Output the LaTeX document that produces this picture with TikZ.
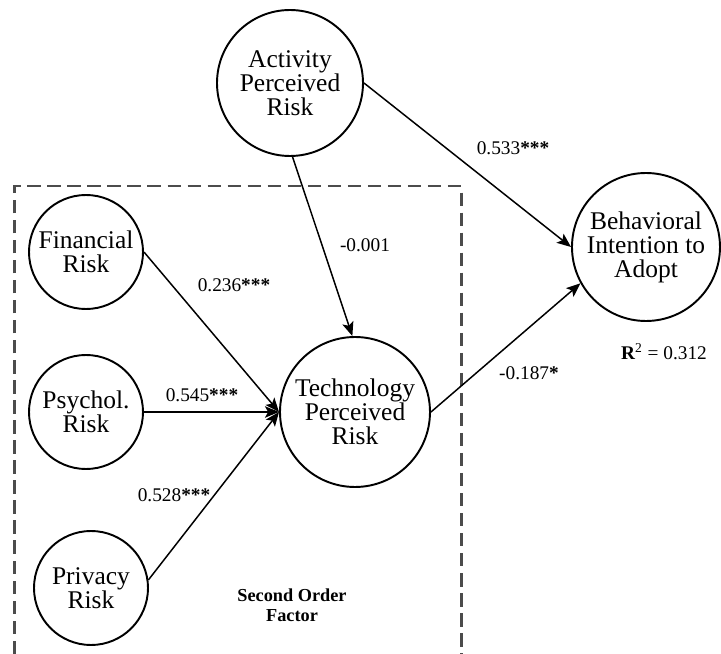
\documentclass[tikz,border=0pt]{standalone}
\usepackage{fontspec}
\setmainfont{Liberation Serif}
\usepackage{tikz}
\usetikzlibrary{arrows.meta}

\begin{document}
\begin{tikzpicture}[
  construct/.style={circle, draw, line width=1.1pt, inner sep=0pt, align=center,
    font=\fontsize{14.5}{13.7}\selectfont},
  coef/.style={font=\fontsize{11}{13}\selectfont},
  effect/.style={line width=0.85pt, -{Stealth[length=8pt,width=6.5pt,inset=1.8pt]}}
]
\useasboundingbox (0cm,0cm) rectangle (14.42cm,-13.08cm);
% second order factor frame
\draw[black!70, line width=1.2pt, dash pattern=on 7.6pt off 3.8pt]
  (0.29cm,-13.08cm) -- (0.29cm,-3.72cm) -- (9.23cm,-3.72cm) -- (9.23cm,-13.08cm);
\node[construct, minimum size=2.92cm] (1) at (5.8 cm,-1.66cm) {Activity\\Perceived\\Risk};
\node[construct, minimum size=2.96cm] (2) at (12.92 cm,-4.94cm) {Behavioral\\Intention to\\Adopt};
\node[construct, minimum size=2.28cm] (3) at (1.72 cm,-5.04cm) {Financial\\Risk};
\node[construct, minimum size=2.28cm] (4) at (1.72 cm,-8.24cm) {Psychol.\\Risk};
\node[construct, minimum size=2.28cm] (5) at (1.82 cm,-11.76cm) {Privacy\\Risk};
\node[construct, minimum size=3.0cm] (6) at (7.1 cm,-8.24cm) {Technology\\Perceived\\Risk};
\draw[effect] (1.-88) -- (6.92);
\draw[effect] (1.east) -- (2.west);
\draw[effect] (6.east) -- (2.209);
\draw[effect] (3.east) -- (6.west);
\draw[effect] (4.east) -- (6.west);
\draw[effect] (5.8) -- (6.west);
\node[coef] (c1) at (10.26 cm,-2.96cm) {0.533\textbf{***}};
\node[coef] (c2) at (7.3 cm,-4.9cm) {-0.001};
\node[coef] (c3) at (4.68 cm,-5.7cm) {0.236\textbf{***}};
\node[coef] (c4) at (4.04 cm,-7.9cm) {0.545\textbf{***}};
\node[coef] (c5) at (3.48 cm,-9.9cm) {0.528\textbf{***}};
\node[coef] (c6) at (10.58 cm,-7.46cm) {-0.187\textbf{*}};
\node[coef] (r2) at (13.28 cm,-7.04cm) {\textbf{R}\textsuperscript{2} = 0.312};
\node[align=center, font=\bfseries\fontsize{10.4}{11.4}\selectfont] (sof) at (5.84 cm,-12.1cm) {Second Order\\Factor};
\end{tikzpicture}
\end{document}
